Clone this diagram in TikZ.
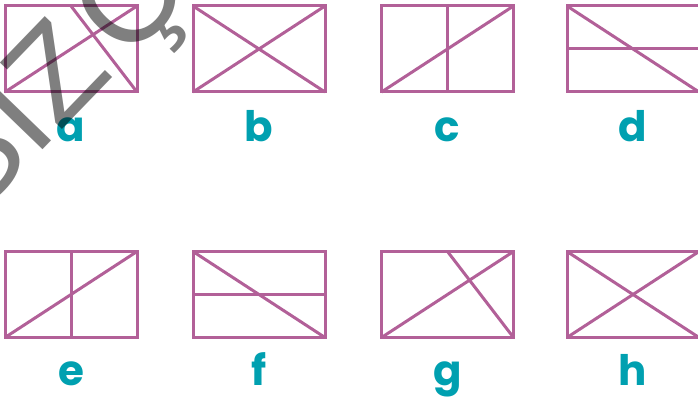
\documentclass[tikz,border=0pt]{standalone}
\usepackage{fontspec}
\usetikzlibrary{calc}
\newfontfamily\lblfont{Poppins}
\newfontfamily\wmfont{Liberation Sans}
\definecolor{frame}{RGB}{178,96,152}
\definecolor{letter}{RGB}{0,160,176}
\tikzset{
  fig/.style={rectangle, draw=frame, line width=3pt, inner sep=0pt, outer sep=0pt,
    minimum width=132pt, minimum height=86pt},
  cut/.style={draw=frame, line width=3pt},
  tag/.style={text=letter, font=\lblfont\bfseries\fontsize{42}{42}\selectfont,
    anchor=base, inner sep=0pt},
  wmark/.style={text=black, opacity=0.5, font=\wmfont\fontsize{132}{132}\selectfont,
    rotate=46, anchor=base west, inner sep=0pt},
}

\begin{document}
\begin{tikzpicture}[x=1pt, y=-1pt]
  \useasboundingbox (0,0) rectangle (698,401);
  \clip (0,0) rectangle (698,401);
  % top row
  \node[fig] (a) at (71,49) {};
  \node[fig] (b) at (259,49) {};
  \node[fig] (c) at (447.5,49) {};
  \node[fig] (d) at (633,49) {};
  % bottom row
  \node[fig] (e) at (71,294.5) {};
  \node[fig] (f) at (259,294.5) {};
  \node[fig] (g) at (447.5,294.5) {};
  \node[fig] (h) at (633,294.5) {};
  % the cuts inside each frame
  \draw[cut] (a.south west) -- (a.north east);
  \draw[cut] (a.north) -- (a.south east);
  \draw[cut] (b.south west) -- (b.north east);
  \draw[cut] (b.north west) -- (b.south east);
  \draw[cut] (c.north) -- (c.south);
  \draw[cut] (c.south west) -- (c.north east);
  \draw[cut] (d.west) -- (d.east);
  \draw[cut] (d.north west) -- (d.south east);
  \draw[cut] (e.north) -- (e.south);
  \draw[cut] (e.south west) -- (e.north east);
  \draw[cut] (f.west) -- (f.east);
  \draw[cut] (f.north west) -- (f.south east);
  \draw[cut] (g.south west) -- (g.north east);
  \draw[cut] (g.north) -- (g.south east);
  \draw[cut] (h.south west) -- (h.north east);
  \draw[cut] (h.north west) -- (h.south east);
  % letters under the frames
  \node[tag] (ta) at ($(a.south)+(0,49)$) {a};
  \node[tag] (tb) at ($(b.south)+(0,49)$) {b};
  \node[tag] (tc) at ($(c.south)+(0,49)$) {c};
  \node[tag] (td) at ($(d.south)+(0,49)$) {d};
  \node[tag] (te) at ($(e.south)+(0,48)$) {e};
  \node[tag] (tf) at ($(f.south)+(0,48)$) {f};
  \node[tag] (tg) at ($(g.south)+(0,48)$) {g};
  \node[tag] (th) at ($(h.south)+(0,48)$) {h};
  % watermark
  \node[wmark] (wm) at (-27,222) {SIZ\kern15ptÇ};
\end{tikzpicture}
\end{document}
